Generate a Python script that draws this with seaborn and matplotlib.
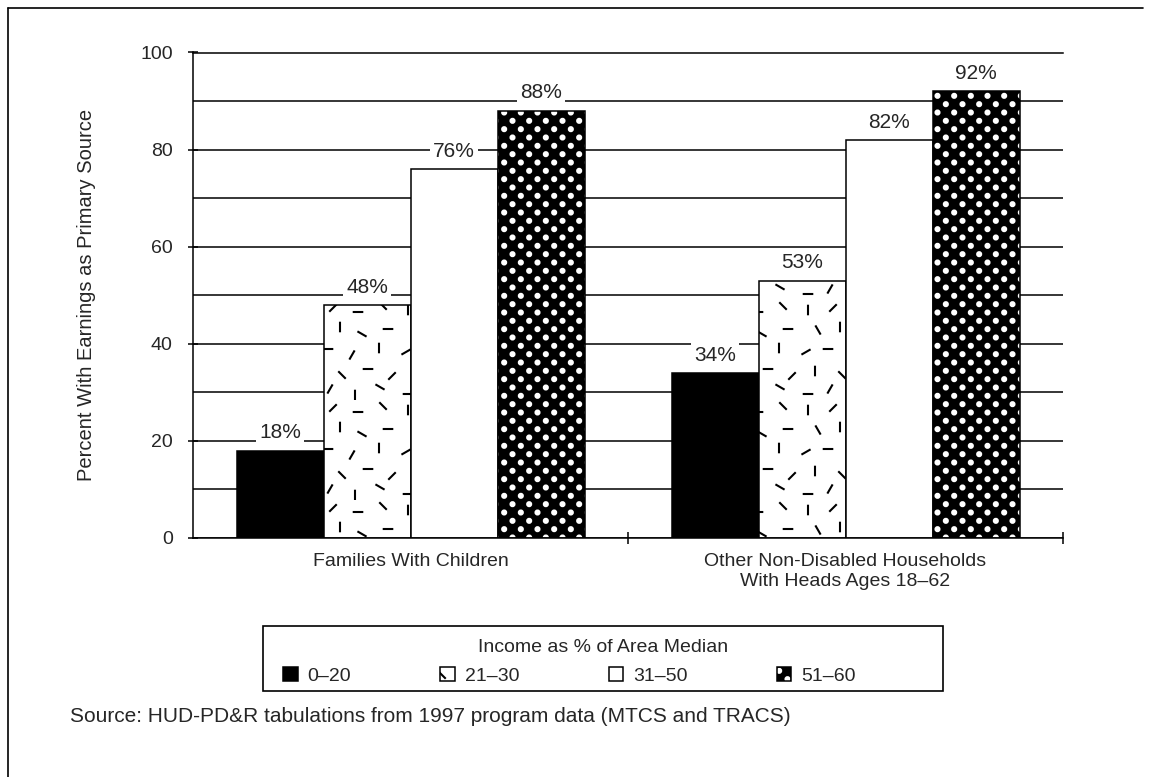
import numpy as np
import pandas as pd
import seaborn as sns
import matplotlib.pyplot as plt
import matplotlib.hatch as mhatch
import matplotlib.patches as mpatches
from matplotlib.lines import Line2D
from matplotlib.path import Path

# data
groups = ["Families With Children",
          "Other Non-Disabled Households\nWith Heads Ages 18\u201362"]
income_bands = ["0\u201320", "21\u201330", "31\u201350", "51\u201360"]
families_pct = [18, 48, 76, 88]
other_pct = [34, 53, 82, 92]

# fill styles per income band
band_face = dict(zip(income_bands, ["black", "white", "white", "black"]))
band_hatch = dict(zip(income_bands, [None, "*", None, "O"]))

# texture for the 21-30 band: short dashes scattered over one hatch tile
DASHES = [
    (0.08, 0.06, 0), (0.30, 0.11, 60), (0.55, 0.05, 90), (0.80, 0.13, -30),
    (0.15, 0.29, 90), (0.42, 0.25, -45), (0.68, 0.31, 0), (0.92, 0.24, 45),
    (0.06, 0.48, 30), (0.28, 0.51, 0), (0.52, 0.45, 60), (0.79, 0.52, 90),
    (0.18, 0.70, -60), (0.40, 0.73, 90), (0.62, 0.66, -30), (0.88, 0.71, 0),
    (0.08, 0.90, 90), (0.33, 0.92, 45), (0.58, 0.88, 0), (0.83, 0.94, -45),
]
DASH_LEN = 0.085
DOT_R = 0.02


class ScatteredDashes(mhatch.HatchPatternBase):
    def __init__(self, hatch, density):
        self.num_vertices = 2 * len(DASHES) if '*' in hatch else 0

    def set_vertices_and_codes(self, vertices, codes):
        for i, (x, y, a) in enumerate(DASHES):
            dx = 0.5 * DASH_LEN * np.cos(np.radians(a))
            dy = 0.5 * DASH_LEN * np.sin(np.radians(a))
            vertices[2 * i] = (x - dx, y - dy)
            vertices[2 * i + 1] = (x + dx, y + dy)
        codes[0::2] = Path.MOVETO
        codes[1::2] = Path.LINETO


class DotLattice(mhatch.HatchPatternBase):
    def __init__(self, hatch, density):
        self.circle = Path.unit_circle()
        self.centers = [(c / 6 + (r % 2) / 12 + 1 / 24, r / 12 + 1 / 24)
                        for r in range(12) for c in range(6)]
        n = len(self.circle.vertices)
        self.num_vertices = n * len(self.centers) if 'O' in hatch else 0

    def set_vertices_and_codes(self, vertices, codes):
        n = len(self.circle.vertices)
        for i, (cx, cy) in enumerate(self.centers):
            vertices[i * n:(i + 1) * n] = self.circle.vertices * DOT_R + (cx, cy)
            codes[i * n:(i + 1) * n] = self.circle.codes


mhatch._hatch_types = [t for t in mhatch._hatch_types
                       if t not in (mhatch.Stars, mhatch.LargeCircles)]
mhatch._hatch_types += [ScatteredDashes, DotLattice]

sns.set_style("white")
plt.rcParams['font.family'] = ['Liberation Sans', 'DejaVu Sans']
plt.rcParams['hatch.linewidth'] = 1.5

df = pd.DataFrame({
    "group": np.repeat(groups, len(income_bands)),
    "income": income_bands * len(groups),
    "pct": families_pct + other_pct,
})

W, H = 1153, 777
fig = plt.figure(figsize=(W / 100, H / 100), dpi=100)
ax = fig.add_axes([193 / W, 1 - 538 / H, 870 / W, 485.5 / H])

sns.barplot(data=df, x="group", y="pct", hue="income", order=groups,
            hue_order=income_bands, palette=band_face, saturation=1,
            edgecolor="black", linewidth=1.1, width=0.8, legend=False, ax=ax)

for band, cont in zip(income_bands, ax.containers):
    for bar in cont:
        if band_hatch[band]:
            bar.set_hatch(band_hatch[band])
        if band == income_bands[3]:
            bar._hatch_color = (1, 1, 1, 1)
    ax.bar_label(cont, labels=[f"{v:.0f}%" for v in cont.datavalues],
                 padding=6, fontsize=15,
                 bbox=dict(facecolor="white", edgecolor="none", pad=2.5))

ax.set_xlim(-0.5, 1.5)
ax.set_ylim(0, 100)
ax.set_yticks(range(0, 101, 20))
ax.set_yticks(range(10, 100, 20), minor=True)
ax.set_xticks([0.5, 1.5], minor=True)
ax.set_axisbelow(True)
ax.grid(axis="y", which="both", color="black", linewidth=1.1)
ax.grid(axis="x", visible=False)

ax.tick_params(axis="y", which="major", left=True, direction="inout",
               length=7, width=1.1, color="black", labelsize=14, pad=11)
ax.tick_params(axis="y", which="minor", left=False, length=0)
ax.tick_params(axis="x", which="major", bottom=False, length=0,
               labelsize=14, pad=11)
ax.tick_params(axis="x", which="minor", bottom=True, direction="inout",
               length=9, width=1.1, color="black")

ax.spines["right"].set_visible(False)
for side in ["left", "bottom", "top"]:
    ax.spines[side].set_color("black")
    ax.spines[side].set_linewidth(1.1)

ax.set_xlabel("")
ax.set_ylabel("Percent With Earnings as Primary Source", fontsize=14.5)
ax.yaxis.set_label_coords(-0.111, 0.5)

# legend: box, heading, and the four swatches
fig.add_artist(mpatches.Rectangle((263 / W, 1 - 691 / H), 680 / W, 65 / H,
                                  transform=fig.transFigure, fill=False,
                                  edgecolor="black", linewidth=1.2))
fig.text(603 / W, 1 - 647 / H, "Income as % of Area Median",
         fontsize=14, ha="center", va="center")

handles = [mpatches.Patch(facecolor=band_face[b], edgecolor="black",
                          hatch=band_hatch[b], linewidth=1.1, label=b)
           for b in income_bands]
handles[3]._hatch_color = (1, 1, 1, 1)
leg = fig.legend(handles=handles, ncol=4, loc="center left",
                 bbox_to_anchor=(283 / W, 1 - 676 / H),
                 frameon=False, fontsize=14, handlelength=0.75,
                 handleheight=0.75, handletextpad=0.5, columnspacing=4.6,
                 borderpad=0, borderaxespad=0)

fig.text(70 / W, 1 - 716 / H,
         "Source: HUD-PD&R tabulations from 1997 program data (MTCS and TRACS)",
         fontsize=15, va="center")

# page frame (top and left edges)
fig.add_artist(Line2D([8 / W, 8 / W], [0, 1 - 8 / H],
                      transform=fig.transFigure, color="black", linewidth=1.2))
fig.add_artist(Line2D([8 / W, 1143 / W], [1 - 8 / H, 1 - 8 / H],
                      transform=fig.transFigure, color="black", linewidth=1.2))

fig.savefig("out.png", dpi=100)
